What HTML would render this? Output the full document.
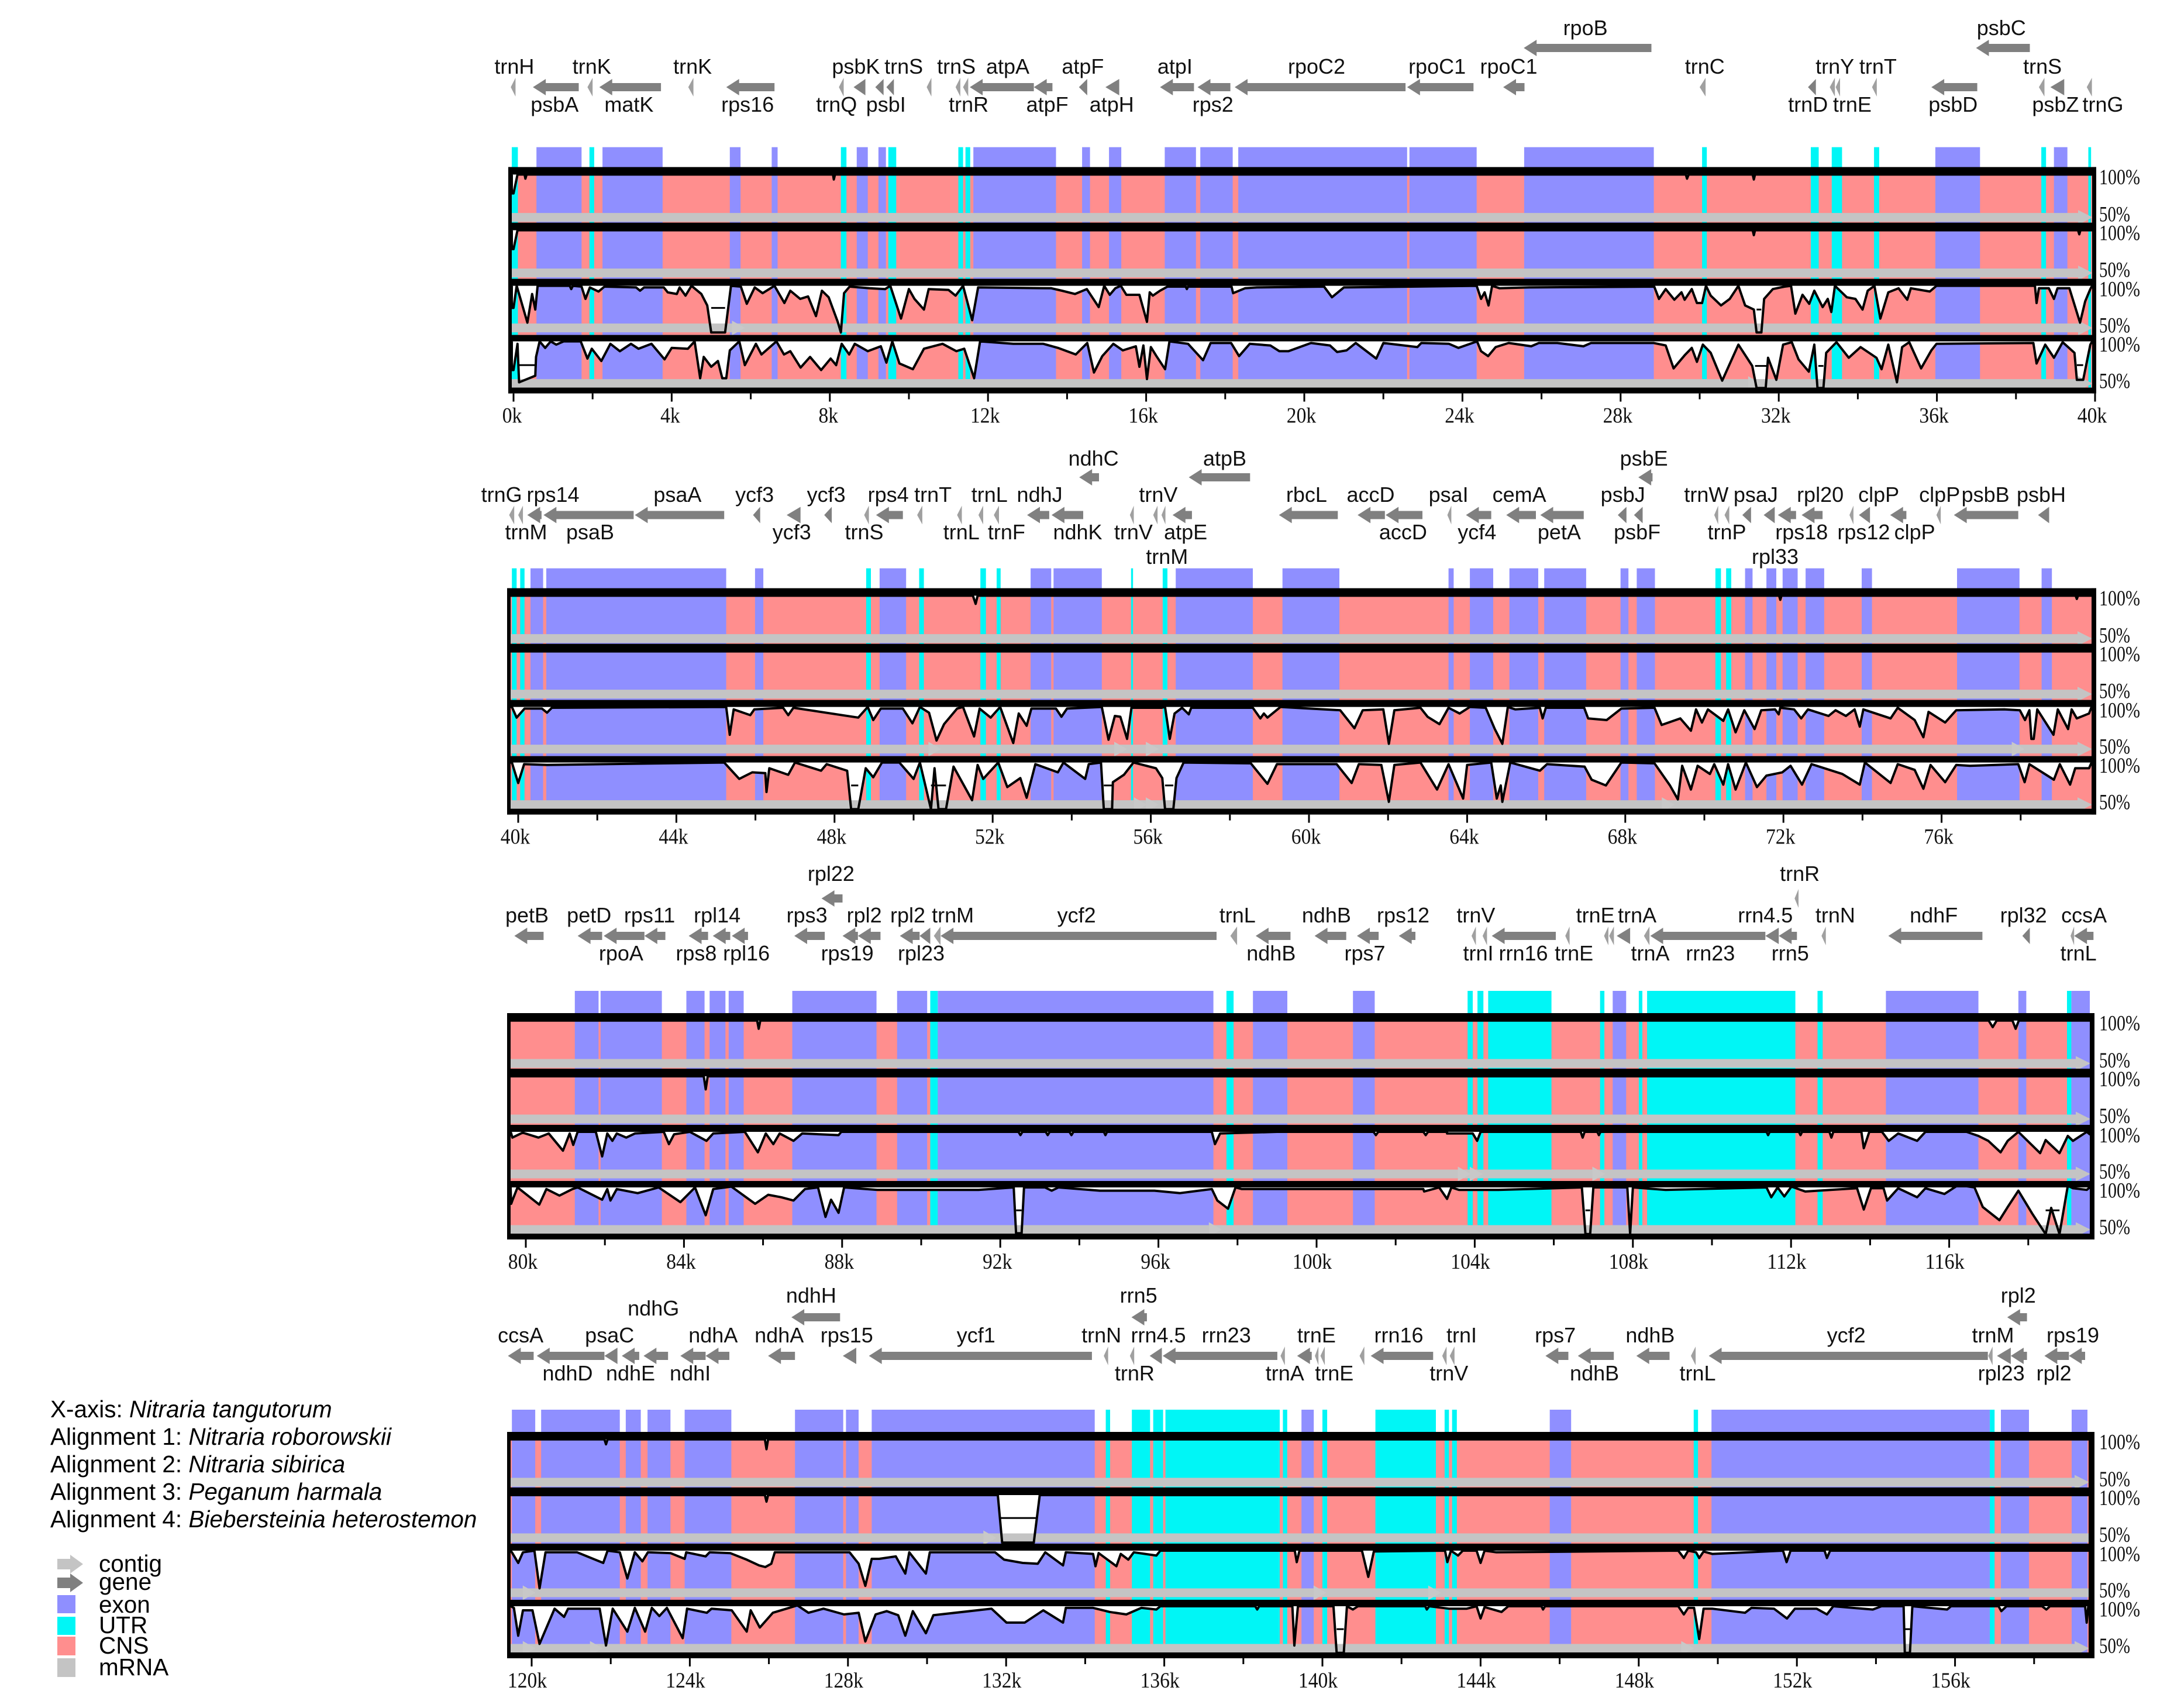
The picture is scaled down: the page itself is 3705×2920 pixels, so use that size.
<!DOCTYPE html>
<html lang="en">
<head>
<meta charset="utf-8">
<title>mVISTA chloroplast genome alignment</title>
<style>
html,body{margin:0;padding:0;background:#fff;}
svg{display:block;}
text{font-family:"Liberation Sans",sans-serif;fill:#000;}
.gene-label{font-size:36px;fill:#111;}
.tick-label,.pct-label{font-family:"Liberation Serif",serif;font-size:37px;fill:#111;}
.legend-text{font-size:40.5px;fill:#000;}
</style>
</head>
<body>
<svg id="chart" xmlns="http://www.w3.org/2000/svg" width="3705" height="2920" viewBox="0 0 3705 2920">
  <rect x="0" y="0" width="3705" height="2920" fill="#fff"/>
  <g>
    <text class="legend-text" x="86" y="2423">X-axis: <tspan font-style="italic">Nitraria tangutorum</tspan></text>
    <text class="legend-text" x="86" y="2470">Alignment 1: <tspan font-style="italic">Nitraria roborowskii</tspan></text>
    <text class="legend-text" x="86" y="2517">Alignment 2: <tspan font-style="italic">Nitraria sibirica</tspan></text>
    <text class="legend-text" x="86" y="2564">Alignment 3: <tspan font-style="italic">Peganum harmala</tspan></text>
    <text class="legend-text" x="86" y="2611">Alignment 4: <tspan font-style="italic">Biebersteinia heterostemon</tspan></text>
  </g>
  <g>
    <polygon points="98,2665 120,2665 120,2658 142,2674 120,2690 120,2683 98,2683" fill="#c4c4c4"/>
    <text class="legend-text" x="169" y="2687">contig</text>
    <polygon points="98,2697 120,2697 120,2690 142,2706 120,2722 120,2715 98,2715" fill="#808080"/>
    <text class="legend-text" x="169" y="2718">gene</text>
    <rect x="98" y="2727" width="31" height="31" fill="#8f8fff"/>
    <text class="legend-text" x="169" y="2757">exon</text>
    <rect x="98" y="2764" width="31" height="31" fill="#00f6f6"/>
    <text class="legend-text" x="169" y="2792">UTR</text>
    <rect x="98" y="2798" width="31" height="32" fill="#ff8e8e"/>
    <text class="legend-text" x="169" y="2827">CNS</text>
    <rect x="98" y="2835" width="31" height="32" fill="#c4c4c4"/>
    <text class="legend-text" x="169" y="2864">mRNA</text>
  </g>
</svg>
<script>
/* ---------- data: everything in kilobases along the reference genome ---------- */
const tickLabels0 = ['0k','4k','8k','12k','16k','20k','24k','28k','32k','36k','40k'];
const tickLabels1 = ['40k','44k','48k','52k','56k','60k','64k','68k','72k','76k'];
const tickLabels2 = ['80k','84k','88k','92k','96k','100k','104k','108k','112k','116k'];
const tickLabels3 = ['120k','124k','128k','132k','136k','140k','144k','148k','152k','156k'];
const percentLabels = ['100%','50%'];

const exon0 = [[.58,1.72],[2.25,3.77],[5.47,5.74],[6.53,6.68],[8.68,8.96],[9.23,9.42],[11.63,13.72],[14.38,14.58],[15.06,15.37],[16.47,17.26],[17.37,18.19],[18.33,22.6],[22.66,24.36],[25.56,28.84],[35.96,37.09],[38.96,39.3]];
const utr0 = [[-.1,.11],[1.92,2.04],[8.28,8.42],[9.48,9.68],[11.25,11.37],[11.43,11.55],[30.06,30.18],[32.81,33.01],[33.34,33.6],[34.41,34.54],[38.64,38.76],[39.83,39.9]];
const exon1 = [[40.31,40.63],[40.71,45.26],[45.99,46.2],[49.14,49.81],[52.96,53.48],[53.54,54.76],[56.63,58.58],[59.33,60.77],[63.53,63.66],[64.07,64.66],[65.07,65.8],[65.95,67.01],[67.88,68.08],[68.29,68.75],[71.03,71.22],[71.57,71.82],[71.98,72.36],[72.56,73.03],[73.98,74.24],[76.39,77.97],[78.53,78.79]];
const utr1 = [[39.84,39.96],[40.05,40.16],[48.8,48.92],[50.14,50.26],[51.69,51.83],[52.1,52.2],[55.5,55.55],[56.3,56.42],[70.28,70.42],[70.55,70.68]];
const exon2 = [[81.24,81.84],[81.89,83.44],[84.06,84.52],[84.65,85.05],[85.13,85.51],[86.74,88.87],[89.39,90.15],[90.42,97.39],[98.39,99.26],[100.92,101.47],[107.49,107.83],[114.4,116.74],[117.75,117.95],[119.09,119.7]];
const utr2 = [[90.23,90.42],[97.72,97.9],[103.82,103.95],[104.07,104.22],[104.34,105.94],[107.17,107.28],[108.15,108.24],[108.36,112.11],[112.67,112.8],[118.98,119.09]];
const exon3 = [[119.5,120.09],[120.24,122.23],[122.38,122.76],[122.93,123.51],[123.87,125.05],[126.66,127.88],[127.95,128.27],[128.6,134.24],[139.47,139.78],[145.75,146.29],[149.84,156.88],[157.16,157.87],[158.95,159.35]];
const utr3 = [[134.52,134.63],[135.18,135.64],[135.72,135.97],[136.03,138.92],[139,139.11],[140,140.12],[141.34,142.87],[143.09,143.2],[143.28,143.4],[149.39,149.5],[156.88,157]];

/* gene: name, from k, to k, arrow track (0 main, 1 upper), label k, label row */
const genes0 = [
['trnH',-.07,.05,0,.02,'A'],['psbA',.49,1.65,0,1.04,'B'],['trnK',1.87,2,0,1.98,'A'],['matK',2.17,3.73,0,2.92,'B'],['trnK',4.42,4.55,0,4.53,'A'],['rps16',5.38,6.6,0,5.92,'B'],['trnQ',8.23,8.35,0,8.17,'B'],['psbK',8.6,8.9,0,8.66,'A'],['psbI',9.15,9.36,0,9.42,'B'],['trnS',9.43,9.62,0,9.87,'A'],['',10.45,10.57,0,0,'A'],['trnS',11.18,11.3,0,11.2,'A'],['trnR',11.37,11.5,0,11.51,'B'],['atpA',11.54,13.16,0,12.5,'A'],['atpF',13.16,13.63,0,13.5,'B'],['atpF',14.3,14.51,0,14.4,'A'],['atpH',14.97,15.32,0,15.13,'B'],['atpI',16.35,17.21,0,16.73,'A'],['rps2',17.3,18.13,0,17.69,'B'],['rpoC2',18.24,22.56,0,20.31,'A'],['rpoC1',22.6,24.28,0,23.36,'A'],['rpoC1',25.03,25.57,0,25.17,'A'],['rpoB',25.55,28.78,1,27.11,'U'],['trnC',30,30.15,0,30.13,'A'],['trnD',32.74,32.94,0,32.74,'B'],['trnY',33.29,33.42,0,33.42,'A'],['trnE',33.44,33.55,0,33.86,'B'],['trnT',34.36,34.48,0,34.51,'A'],['psbD',35.86,37.02,0,36.41,'B'],['psbC',36.99,38.35,1,37.63,'U'],['trnS',38.58,38.72,0,38.67,'A'],['psbZ',38.87,39.22,0,39,'B'],['trnG',39.79,39.92,0,40.2,'B']];
const genes1 = [
['trnG',39.77,39.9,0,39.58,'A'],['trnM',40,40.12,0,40.2,'B'],['rps14',40.23,40.59,0,40.88,'A'],['psaB',40.64,42.92,0,41.82,'B'],['psaA',42.95,45.21,0,44.03,'A'],['ycf3',45.94,46.12,0,45.98,'A'],['ycf3',46.79,47.14,0,46.92,'B'],['ycf3',47.74,47.93,0,47.79,'A'],['trnS',48.75,48.87,0,48.75,'B'],['rps4',49.05,49.73,0,49.36,'A'],['trnT',50.09,50.22,0,50.49,'A'],['trnL',51.1,51.22,0,51.21,'B'],['trnL',51.64,51.76,0,51.92,'A'],['trnF',52.03,52.16,0,52.35,'B'],['ndhJ',52.87,53.43,0,53.19,'A'],['ndhK',53.49,54.29,0,54.15,'B'],['ndhC',54.19,54.69,1,54.55,'U'],['trnV',55.47,55.57,0,55.56,'B'],['trnV',56.06,56.17,0,56.19,'A'],['trnM',56.27,56.37,0,56.41,'L'],['atpE',56.55,57.04,0,56.88,'B'],['atpB',56.96,58.51,1,57.87,'U'],['rbcL',59.24,60.73,0,59.94,'A'],['accD',61.23,61.92,0,61.56,'A'],['accD',61.94,62.87,0,62.38,'B'],['psaI',63.5,63.6,0,63.53,'A'],['ycf4',63.97,64.61,0,64.25,'B'],['cemA',64.99,65.74,0,65.32,'A'],['petA',65.85,66.95,0,66.33,'B'],['psbJ',67.81,68.03,0,67.94,'A'],['psbE',68.33,68.69,1,68.47,'U'],['psbF',68.22,68.44,0,68.3,'B'],['trnW',70.25,70.35,0,70.05,'A'],['trnP',70.51,70.63,0,70.57,'B'],['psaJ',70.96,71.18,0,71.3,'A'],['rpl33',71.5,71.78,0,71.79,'L'],['rps18',71.86,72.32,0,72.46,'B'],['rpl20',72.46,72.99,0,72.93,'A'],['rps12',73.67,73.77,0,74.03,'B'],['clpP',73.91,74.19,0,74.41,'A'],['clpP',74.7,75.11,0,75.32,'B'],['clpP',75.87,75.98,0,75.95,'A'],['psbB',76.31,77.94,0,77.11,'A'],['psbH',78.44,78.72,0,78.52,'A']];
const genes2 = [
['petB',79.71,80.45,0,80.03,'A'],['petD',81.31,81.93,0,81.6,'A'],['rpoA',81.97,83,0,82.41,'B'],['rps11',83,83.53,0,83.13,'A'],['rps8',84.12,84.61,0,84.31,'B'],['rpl14',84.73,85.17,0,84.84,'A'],['rpl16',85.21,85.62,0,85.58,'B'],['rps3',86.79,87.56,0,87.11,'A'],['rpl22',87.48,88.01,1,87.72,'U'],['rps19',88.01,88.4,0,88.13,'B'],['rpl2',88.4,88.97,0,88.56,'A'],['rpl23',89.46,89.96,0,90,'B'],['rpl2',89.96,90.23,0,89.66,'A'],['trnM',90.32,90.49,0,90.8,'A'],['ycf2',90.49,97.47,0,93.93,'A'],['trnL',97.82,97.99,0,98,'A'],['ndhB',98.46,99.34,0,98.85,'B'],['ndhB',99.95,100.75,0,100.25,'A'],['rps7',101.02,101.57,0,101.22,'B'],['rps12',102.08,102.5,0,102.19,'A'],['trnV',103.92,104.03,0,104.03,'A'],['trnI',104.2,104.31,0,104.09,'B'],['rrn16',104.43,106.05,0,105.23,'B'],['trnE',106.29,106.4,0,106.51,'B'],['trnE',107.27,107.38,0,107.05,'A'],['',107.4,107.52,0,0,'A'],['trnA',107.59,107.93,0,108.11,'A'],['trnA',108.28,108.42,0,108.44,'B'],['rrn23',108.44,111.35,0,109.96,'B'],['rrn4.5',111.35,111.69,0,111.35,'A'],['rrn5',111.69,112.15,0,111.98,'B'],['trnR',112.09,112.19,1,112.22,'U'],['trnN',112.77,112.88,0,113.12,'A'],['ndhF',114.46,116.84,0,115.61,'A'],['rpl32',117.85,118.04,0,117.88,'A'],['trnL',119.07,119.16,0,119.27,'B'],['ccsA',119.16,119.65,0,119.41,'A']];
const genes3 = [
['ccsA',119.4,120.05,0,119.72,'A'],['ndhD',120.13,121.84,0,120.91,'B'],['psaC',121.84,122.17,0,121.97,'A'],['ndhE',122.28,122.72,0,122.5,'B'],['ndhG',122.83,123.45,0,123.08,'G'],['ndhI',123.76,124.4,0,124.01,'B'],['ndhA',124.4,125,0,124.59,'A'],['ndhA',125.98,126.66,0,126.26,'A'],['ndhH',126.57,127.8,1,127.07,'U'],['rps15',127.87,128.21,0,127.97,'A'],['ycf1',128.53,134.17,0,131.24,'A'],['trnN',134.47,134.58,0,134.41,'A'],['trnR',135.13,135.24,0,135.25,'B'],['rrn5',135.17,135.56,1,135.35,'U'],['rrn4.5',135.63,135.94,0,135.85,'A'],['rrn23',135.96,138.86,0,137.57,'A'],['trnA',138.94,139.05,0,139.05,'B'],['trnE',139.36,139.73,0,139.85,'A'],['trnE',139.81,139.9,0,140.3,'B'],['',139.95,140.06,0,0,'A'],['',140.94,141.06,0,0,'A'],['rrn16',141.22,142.8,0,141.93,'A'],['trnV',143.03,143.14,0,143.2,'B'],['trnI',143.22,143.34,0,143.52,'A'],['rps7',145.64,146.22,0,145.89,'A'],['ndhB',146.46,147.37,0,146.88,'B'],['ndhB',147.94,148.78,0,148.29,'A'],['trnL',149.32,149.44,0,149.49,'B'],['ycf2',149.77,156.83,0,153.25,'A'],['trnM',156.84,156.95,0,156.96,'A'],['rpl23',157.06,157.41,0,157.17,'B'],['',157.41,157.82,0,0,'A'],['rpl2',157.32,157.82,1,157.6,'U'],['rpl2',158.26,158.88,0,158.5,'B'],['rps19',158.88,159.29,0,158.98,'A']];

/* conservation identity (%), flat list of k, pct, k, pct ... */
const cons0a = [-.05,77,0,77,.1,100,.28,100,.3,95,.33,100,8.08,100,8.1,94,8.13,100,29.65,100,29.68,95,29.72,100,31.34,100,31.37,94,31.4,100];
const cons0b = [-.05,77,0,77,.1,100,31.34,100,31.37,94,31.4,100,39.57,100,39.6,95,39.63,100];
const cons0c = [-.05,73,0,73,.08,100,.35,55,.47,90,.55,71,.61,100,1.42,100,1.46,96,1.5,100,1.72,99,1.82,84,1.93,98,2.15,93,2.3,99,3.1,98,3.2,94,3.3,98,3.8,98,3.9,92,4.13,90,4.2,98,4.35,88,4.5,100,4.75,90,4.9,76,5,43,5.35,43,5.5,100,5.75,99,5.9,78,6.1,98,6.3,91,6.6,100,6.85,79,7,94,7.25,84,7.45,87,7.65,63,7.8,94,7.97,86,8.2,56,8.28,43,8.36,91,8.5,99,9,97,9.4,96,9.53,100,9.8,60,10,96,10.14,84,10.38,71,10.5,96,11,95,11.18,88,11.37,100,11.6,58,11.75,98,13.6,97,13.87,94,14.2,90,14.5,96,14.8,74,14.94,100,15.08,89,15.22,97,15.36,100,15.5,89,15.83,89,16.02,56,16.09,92,16.17,88,16.35,94,16.54,99,17,99,17.03,96,17.06,99,18.16,99,18.2,91,18.5,97,18.8,98,20.5,99,20.7,86,21,98,24.36,100,24.47,84,24.56,92,24.66,76,24.75,100,24.94,97,25.69,98,28.85,99,28.97,84,29.14,96,29.36,83,29.54,92,29.62,83,29.8,96,29.93,79,30.06,79,30.16,100,30.28,88,30.54,76,30.76,84,30.98,100,31.15,76,31.37,71,31.44,43,31.56,43,31.63,84,31.85,96,32.15,99,32.31,100,32.42,66,32.6,89,32.77,78,32.9,94,33.11,74,33.24,84,33.33,68,33.42,100,33.72,86,33.94,84,34.12,71,34.25,94,34.42,100,34.57,60,34.77,92,35.03,97,35.25,83,35.34,97,35.82,93,35.99,100,38.48,100,38.52,79,38.58,97,38.83,97,38.96,84,39.05,97,39.35,97,39.62,55,39.75,81,39.88,96];
const cons0d = [-.05,65,0,65,.1,97,.14,50,.55,58,.57,81,.66,100,.8,92,.94,100,1.08,96,1.27,100,1.7,100,1.87,79,1.98,91,2.22,76,2.45,97,2.69,88,2.97,97,3.16,91,3.49,97,3.82,78,4,92,4.41,91,4.58,100,4.72,55,4.81,81,5,69,5.17,76,5.28,55,5.38,55,5.47,89,5.71,100,5.85,71,6.13,97,6.27,84,6.65,100,6.84,84,7,88,7.26,68,7.5,81,7.78,65,8.02,79,8.16,71,8.3,97,8.49,84,8.63,97,8.96,88,9.29,94,9.43,74,9.58,100,9.76,73,10.1,66,10.38,91,10.85,97,11.2,88,11.4,91,11.65,55,11.8,100,12.64,97,13.4,97,13.77,92,14.22,84,14.51,98,14.68,62,14.89,82,15.17,97,15.41,89,15.74,94,15.83,69,15.93,95,16.02,54,16.12,93,16.26,82,16.48,66,16.59,100,17.06,97,17.44,77,17.63,98,18.15,98,18.35,82,18.62,97,19.14,95,19.37,88,19.6,88,20.17,98,20.65,95,20.83,87,21.07,89,21.3,98,21.82,79,22,98,22.86,93,22.96,98,23.66,97,23.9,92,24.37,100,24.47,88,24.65,82,24.84,93,25.17,98,25.74,94,25.93,98,26.4,98,27.06,94,27.25,98,28.4,98,28.84,98,29.14,95,29.34,67,29.62,83,29.8,92,29.93,75,30.08,96,30.28,86,30.57,52,30.98,96,31.33,70,31.44,43,31.67,43,31.73,80,31.94,53,32.11,96,32.33,99,32.5,78,32.76,63,32.9,96,32.98,43,33.13,43,33.2,86,33.46,99,33.77,80,34.07,93,34.47,80,34.6,66,34.77,96,34.99,50,35.12,93,35.3,99,35.6,67,35.86,89,35.99,97,38.44,98,38.52,73,38.74,96,38.96,80,39.18,99,39.48,86,39.54,53,39.7,53,39.88,96];
const cons1a = [51.5,100,51.57,90,51.62,100,71.89,100,71.92,95,71.95,100,79.39,100,79.42,96,79.45,100];
const cons1b = [39.8,100,79.7,100];
const cons1c = [39.84,100,39.96,87,40.16,98,40.6,98,40.73,93,40.85,99,45.26,100,45.35,66,45.45,97,45.87,90,45.97,97,46.7,99,46.83,90,46.96,99,48.6,87,48.84,100,48.98,84,49.17,98,49.73,98,49.97,80,50.16,100,50.39,93,50.58,59,50.77,79,51.1,98,51.25,100,51.53,64,51.67,98,51.95,87,52.19,100,52.52,56,52.66,92,52.86,77,52.98,98,53.6,98,53.74,88,53.88,98,54.76,100,54.93,60,55.09,89,55.23,88,55.4,61,55.51,99,56.27,99,56.36,100,56.48,61,56.6,92,56.79,99,56.96,91,57.02,99,58.58,99,58.77,86,58.86,92,58.95,87,59.28,100,60.79,96,61.15,74,61.36,96,61.88,97,62.02,55,62.16,96,62.82,99,63,88,63.3,79,63.53,99,63.81,92,64.07,100,64.47,99,64.7,73,64.89,55,65.03,100,65.22,97,65.84,99,65.91,86,65.99,99,66.96,99,67.06,86,67.53,84,67.9,98,68.74,99,68.92,78,69.39,86,69.66,71,69.79,97,69.94,81,70.09,97,70.48,83,70.6,97,70.79,69,71.01,96,71.27,73,71.44,96,71.79,97,71.88,91,71.92,99,72.27,97,72.45,86,72.62,97,73.14,89,73.32,96,73.58,89,73.8,97,73.93,76,74.02,97,74.71,86,74.89,99,75.32,84,75.54,63,75.67,94,76.09,81,76.37,96,77.59,97,77.98,96,78.11,84,78.22,96,78.27,61,78.33,61,78.42,97,78.83,66,78.94,97,79.2,73,79.29,97,79.42,86,79.73,92];
const cons1d = [39.84,100,40,75,40.15,98,40.73,97,45.21,100,45.59,80,45.92,88,46.25,87,46.28,64,46.35,93,46.83,85,47,100,47.66,90,47.8,98,48.32,90,48.42,43,48.6,43,48.79,93,48.98,82,49.2,100,49.64,100,50,80,50.16,100,50.44,43,50.53,93,50.63,43,50.82,43,51.01,95,51.48,54,51.62,97,51.76,80,52.14,100,52.37,70,52.7,81,52.86,57,53.08,98,53.65,88,53.79,100,54.34,80,54.43,98,54.74,100,54.81,43,55.02,43,55.04,76,55.32,85,55.56,100,56.13,93,56.29,81,56.36,43,56.57,43,56.65,81,56.83,100,58.53,99,58.95,74,59.19,98,60.7,98,61.08,75,61.26,98,61.83,97,62.02,52,62.16,97,62.82,100,63.24,67,63.53,98,63.9,56,64,97,64.61,100,64.75,56,64.85,72,64.89,52,65.09,100,65.84,90,66.02,98,66.97,95,67.15,79,67.51,72,67.9,100,68.74,99,69.13,72,69.33,55,69.44,96,69.66,67,69.83,96,70.14,86,70.25,98,70.48,73,70.6,98,70.79,67,71.05,100,71.33,70,71.57,84,71.97,88,72.18,96,72.47,73,72.71,98,73.49,86,73.93,73,74.06,100,74.71,75,74.89,98,75.32,91,75.54,68,75.72,97,76.09,76,76.37,97,76.72,96,77.94,98,78.1,76,78.22,98,78.84,79,78.99,98,79.25,73,79.38,93,79.73,93];
const cons2a = [85.85,100,85.89,90,85.93,100,117,100,117.1,92,117.2,100,117.6,100,117.68,90,117.76,100];
const cons2b = [84.5,100,84.55,84,84.6,100];
const cons2c = [79.63,98,79.66,93,79.92,99,80.32,93,80.58,98,80.94,77,81.11,98,81.2,84,81.31,100,81.77,100,81.93,70,82.06,98,82.19,89,82.3,98,82.54,93,82.76,98,83.49,100,83.62,85,83.75,97,84.15,100,84.57,89,84.74,98,85.54,100,85.87,75,86.07,98,86.26,85,86.42,98,86.77,89,86.99,98,87.91,96,87.98,100,92.46,100,92.51,96,92.56,100,93.15,100,93.2,96,93.25,100,93.75,100,93.8,96,93.85,100,94.62,100,94.66,96,94.7,100,97.35,100,97.43,85,97.56,98,99,100,101.44,100,101.5,96,101.56,100,102.7,100,102.76,96,102.82,100,103.3,100,103.3,98,103.95,98,104.06,89,104.15,100,106.68,100,106.73,93,106.78,100,107.1,100,107.14,96,107.18,100,111.38,100,111.42,96,111.46,100,112.2,100,112.24,96,112.28,100,112.97,100,113.02,93,113.07,100,113.78,100,113.84,80,113.98,100,114.3,100,114.47,89,114.71,98,115.19,89,115.4,100,116.44,100,116.74,95,116.99,89,117.3,75,117.48,89,117.75,100,118.3,74,118.44,90,118.79,74,119,95,119.13,89,119.48,100,119.56,97];
const cons2d = [79.63,80,79.66,84,79.79,100,80.34,79,80.52,98,80.85,90,81.18,98,81.31,100,81.93,85,82.06,98,82.14,84,82.3,98,82.83,93,83.36,100,83.91,82,84.28,100,84.55,66,84.74,98,85.2,101,85.8,80,86.13,91,86.46,88,86.77,84,87.06,98,87.39,100,87.58,64,87.72,85,87.91,69,88.05,100,88.89,97,89.96,97,90.73,97,91.45,97,92.34,100,92.4,44,92.54,44,92.6,100,93.13,100,93.3,96,93.47,100,94.52,96,94.81,96,95.6,96,95.9,96,96.54,93,97.35,98,97.49,84,97.76,74,97.95,100,98.11,98,102.7,98,102.72,95,103.1,100,103.3,86,103.41,100,103.6,97,103.85,97,104.6,97,106.71,100,106.8,43,106.92,43,107,100,107.86,100,107.93,43,108,100,108.83,97,111.38,100,111.5,88,111.66,100,111.83,89,112.01,101,112.36,95,113.67,99,113.84,73,114.02,99,114.34,99,114.43,84,114.71,99,115.19,88,115.4,99,115.88,92,116.23,103,116.64,100,116.85,76,117.27,60,117.48,76,117.75,96,118.1,68,118.44,43,118.58,75,118.79,43,119,102,119.13,99,119.48,97];
const cons3a = [121.84,100,121.88,94,121.92,100,125.9,100,125.94,88,125.98,100];
const cons3b = [125.9,100,125.94,92,125.98,100,131.79,100,131.9,42,132.7,42,132.85,100];
const cons3c = [119.5,98,119.66,85,119.78,98,120.07,100,120.2,54,120.35,98,121.15,98,121.81,85,121.92,100,122.23,98,122.42,66,122.61,98,122.8,87,122.94,98,123.51,97,123.87,90,123.91,98,124.4,93,124.5,98,125.02,97,125.44,89,125.75,82,125.91,80,126.06,84,126.15,98,128.04,98,128.27,84,128.44,57,128.6,90,128.79,90,129.21,93,129.45,72,129.55,98,129.97,72,130.07,98,131.72,98,131.95,89,132.42,85,132.8,84,132.99,98,133.44,82,133.51,98,134.2,96,134.26,81,134.34,97,134.79,81,134.9,96,135.09,89,135.23,98,135.8,94,135.9,100,139.3,100,139.35,86,139.42,100,140.4,100,141,100,141.16,68,141.3,99,143.1,100,143.16,86,143.25,100,143.43,94,143.55,100,143.9,100,144,85,144.1,100,144.4,98,149,100,149.14,91,149.25,100,149.45,98,149.53,91,149.64,99,149.86,96,151.65,100,151.74,86,151.84,100,152.7,100,152.76,91,152.84,100];
const cons3d = [119.55,98,119.66,64,119.78,95,120.02,95,120.2,54,120.58,97,120.82,87,120.92,97,121.72,97,121.88,52,122.05,97,122.42,69,122.61,98,122.87,69,123.04,98,123.23,88,123.42,98,123.82,61,123.93,97,124.43,92,124.55,97,125.06,95,125.44,69,125.54,95,125.77,74,126.1,92,126.72,101,127,92,127.38,97,127.9,90,128.27,92,128.44,57,128.7,90,128.98,94,129.27,89,129.45,64,129.64,94,129.97,67,130.16,89,131.63,97,132.01,80,132.47,80,132.94,95,133.44,80,133.51,98,134.2,98,134.62,93,135.04,90,135.42,98,135.8,96,135.9,100,138.3,100,138.35,96,138.4,100,139.24,100,139.29,52,139.38,100,140.28,100,140.36,43,140.54,43,140.62,100,140.77,96,140.9,100,142.6,100,142.64,96,142.7,100,143.2,97,143.65,97,143.9,100,144,85,144.1,99,144.53,93,144.7,100,145.54,100,145.58,96,145.63,100,149,100,149.14,90,149.25,98,149.4,98,149.53,60,149.64,97,149.86,97,150.69,92,150.85,98,151.42,97,151.75,85,151.95,97,152.5,97,152.76,90,152.92,100,153.92,96,154.14,100,154.7,100,154.73,43,154.86,43,154.92,100,155.8,96,155.9,100,157.1,100,157.17,94,157.3,100,158.2,100,158.31,96,158.4,100,159.29,100,159.33,80,159.37,100];

/* no-alignment bars: block, lane, from k, to k, pct */
const gapBars = [[0,2,5,5.35,73],[0,3,.14,.55,71],[0,2,31.44,31.56,71],[0,3,31.4,31.7,70],[0,3,33,33.13,70],[0,3,39.54,39.7,71],[1,3,48.42,48.6,72],[1,3,50.44,50.82,72],[1,3,54.81,55.02,72],[1,3,56.36,56.57,72],[2,3,92.4,92.54,72],[2,3,106.8,106.92,72],[2,3,118.44,118.79,72],[3,1,131.85,132.75,72],[3,3,140.36,140.54,72],[3,3,154.73,154.86,72]];
/* contig joins along the grey bars: block, lane, k */
const contigJoins = [[0,2,5.85],[0,3,31.55],[1,2,50.7],[1,2,55.4],[1,2,56.2],[1,3,55.9],[1,3,56.2],[1,2,78.1],[1,3,69.25],[2,3,97.6],[2,2,103.9],[2,2,104.2],[2,2,107.3],[3,1,131.75],[3,2,120.1],[3,3,120.1],[3,3,121.8],[3,3,149.4],[3,2,140.1],[3,2,143.0]];
const endArrows = [[1,1,1,1],[1,1,1,1],[1,1,1,1],[1,0,0,1]];

const blockTicks = [tickLabels0,tickLabels1,tickLabels2,tickLabels3];
const blockExons = [exon0,exon1,exon2,exon3];
const blockUtrs = [utr0,utr1,utr2,utr3];
const blockGenes = [genes0,genes1,genes2,genes3];
const blockCons = [[cons0a,cons0b,cons0c,cons0d],[cons1a,cons1b,cons1c,cons1d],[cons2a,cons2b,cons2c,cons2d],[cons3a,cons3b,cons3c,cons3d]];

/* ---------- layout ---------- */
const layout = {
  startK:[0,40,80,120], origin:[878,886,899,909], pxPerK:67.6,
  top:[285.6,1005.6,1732,2448],
  frameLeft:[869,867,867,867], frameRight:[3584,3584,3581,3581],
  innerRight:[3577,3576,3573,3571],
  strip:[34,34,38,38],
  arrowY:[149,880.5,1600,2318], upperY:[82,816,1536,2252],
  labelU:[48,784,1494,2215], labelA:[114,846,1565,2283], labelB:[179,910,1630,2348], labelL:[215,952,1670,2385], labelG:[114,846,1565,2237]
};
const laneTop = [12.8,108,203,298], laneBottom = [95,191,287,377];
const greyTop = [78.5,173.5,267.5,362.5], greyH = 15;
const bands = [[0,12.8],[95,108],[191,203],[287,298],[377,387]];
const pctY = [[17.5,81],[113,176],[209,271],[303.5,366]];
const pctPxPer50 = 70;

function xScale(b,k){ return layout.origin[b]+(k-layout.startK[b])*layout.pxPerK; }
function yScale(b,lane,pct){ return layout.top[b]+laneTop[lane]+(100-pct)/50*pctPxPer50; }
function r(v){ return Math.round(v*10)/10; }

const svg = document.getElementById('chart');
const NS = 'http://www.w3.org/2000/svg';
function mk(tag,attrs,parent){
  const el = document.createElementNS(NS,tag);
  for(const a in attrs){ el.setAttribute(a,attrs[a]); }
  parent.appendChild(el);
  return el;
}
function geneArrow(b,g,grp){
  const y = g[3]===1 ? layout.upperY[b] : layout.arrowY[b];
  const tip = xScale(b,g[1]), end = xScale(b,g[2]), len = end-tip;
  let pts, fill = '#808080';
  if(len<=12){
    pts = [[tip,y],[end,y-16],[end,y+16]];
    fill = '#a0a0a0';
  } else if(len<=24){
    pts = [[tip,y],[end,y-14],[end,y+14]];
  } else {
    const hx = tip+22;
    pts = [[tip,y],[hx,y-14],[hx,y-7],[end,y-7],[end,y+7],[hx,y+7],[hx,y+14]];
  }
  const el = mk('polygon',{points:pts.map(p=>r(p[0])+','+r(p[1])).join(' '),fill:fill},grp);
  
  
}
function span(b,range,color,yTop,h,grp,name){
  const left = layout.frameLeft[b]+6, right = layout.innerRight[b];
  const x0 = Math.max(left,xScale(b,range[0])), x1 = Math.min(right,xScale(b,range[1]));
  if(x1<=x0) return;
  const el = mk('rect',{x:r(x0),y:r(yTop),width:r(x1-x0),height:r(h),fill:color},grp);
  
  
}

for(let b=0;b<4;b++){
  const T = layout.top[b], left = layout.frameLeft[b]+6, right = layout.innerRight[b];
  const blockG = mk('g',{},svg);
  
  

  /* gene track */
  const geneG = mk('g',{},blockG);
  
  
  blockGenes[b].forEach(g=>{
    geneArrow(b,g,geneG);
    if(g[0]){
      const ly = layout['label'+g[5]][b];
      const t = mk('text',{x:r(xScale(b,g[4])),y:r(ly+12),'text-anchor':'middle','class':'gene-label'},geneG);
      t.textContent = g[0];
      
      
    }
  });

  /* annotation strip above frame */
  const stripG = mk('g',{},blockG);
  
  
  const st = layout.strip[b];
  blockExons[b].forEach(s=>span(b,s,'#8f8fff',T-st,st+2,stripG,'strip-exon'));
  blockUtrs[b].forEach(s=>span(b,s,'#00f6f6',T-st,st+2,stripG,'strip-utr'));

  /* conservation lanes */
  for(let l=0;l<4;l++){
    const ltop = T+laneTop[l], lbot = T+laneBottom[l];
    const laneG = mk('g',{},blockG);
    
    
    const bg = mk('rect',{x:left,y:r(ltop),width:r(right-left),height:r(lbot-ltop),fill:'#ff8e8e'},laneG);
    
    
    blockExons[b].forEach(s=>span(b,s,'#8f8fff',ltop,lbot-ltop,laneG,'exon-region'));
    blockUtrs[b].forEach(s=>span(b,s,'#00f6f6',ltop,lbot-ltop,laneG,'utr-region'));

    const series = blockCons[b][l];
    const pts = [[left,yScale(b,l,100)]];
    for(let i=0;i<series.length;i+=2){ pts.push([xScale(b,series[i]),yScale(b,l,series[i+1])]); }
    pts.push([right,yScale(b,l,100)]);
    const pstr = pts.map(p=>r(Math.max(left,Math.min(right,p[0])))+','+r(p[1])).join(' ');
    const white = mk('polygon',{points:left+','+r(ltop-2)+' '+pstr+' '+right+','+r(ltop-2),fill:'#fff'},laneG);
    
    

    const gy = T+greyTop[l];
    const grey = mk('rect',{x:left,y:gy,width:r(right-left-(endArrows[b][l]?22:0)),height:greyH,fill:'#c4c4c4'},laneG);
    
    
    if(endArrows[b][l]){
      const hd = mk('polygon',{points:(right-24)+','+(gy-5)+' '+(right+1)+','+(gy+7.5)+' '+(right-24)+','+(gy+20),fill:'#c4c4c4'},laneG);
      
      
    }
    contigJoins.filter(c=>c[0]===b&&c[1]===l).forEach(c=>{
      const cx = xScale(b,c[2]);
      const hd = mk('polygon',{points:r(cx-22)+','+(gy-5)+' '+r(cx)+','+(gy+7.5)+' '+r(cx-22)+','+(gy+20),fill:'#c8c8c8'},laneG);
      
      
    });

    const line = mk('polyline',{points:pstr,fill:'none',stroke:'#000','stroke-width':4,'stroke-linejoin':'round'},laneG);
    
    

    gapBars.filter(g=>g[0]===b&&g[1]===l).forEach(g=>{
      const x0 = xScale(b,g[2]);
      const bar = mk('rect',{x:r(x0),y:r(yScale(b,l,g[4])-1.5),width:r(xScale(b,g[3])-x0),height:3,fill:'#000'},laneG);
      
      
    });
  }

  /* frame */
  const frameG = mk('g',{},blockG);
  
  
  const fl = layout.frameLeft[b], fr = layout.frameRight[b];
  bands.forEach(bd=>{
    const el = mk('rect',{x:fl,y:r(T+bd[0]),width:fr-fl,height:r(bd[1]-bd[0]),fill:'#000'},frameG);
    
    
  });
  const lb = mk('rect',{x:fl,y:r(T),width:6,height:387,fill:'#000'},frameG);
  
  
  const rb = mk('rect',{x:right,y:r(T),width:fr-right,height:387,fill:'#000'},frameG);
  
  

  /* x axis */
  const axisG = mk('g',{},blockG);
  
  
  const yb = T+387;
  blockTicks[b].forEach(label=>{
    const k = parseFloat(label);
    const tx = xScale(b,k);
    const major = mk('rect',{x:r(tx-1.5),y:r(yb),width:3,height:14,fill:'#000'},axisG);
    
    
    const mx = xScale(b,k+2);
    if(mx<right+5){
      const minor = mk('rect',{x:r(mx-1.5),y:r(yb),width:3,height:10,fill:'#000'},axisG);
      
      
    }
    const t = mk('text',{x:r(tx-(label.length-1)*2.5),y:r(yb+50),'text-anchor':'middle','class':'tick-label',textLength:label.length*16.8,lengthAdjust:'spacingAndGlyphs'},axisG);
    t.textContent = label;
    
    
  });

  /* identity percent labels */
  for(let l=0;l<4;l++){
    percentLabels.forEach((label,i)=>{
      const t = mk('text',{x:3589,y:r(T+pctY[l][i]+12),'class':'pct-label',textLength:i===0?70:53,lengthAdjust:'spacingAndGlyphs'},blockG);
      t.textContent = label;
      
      
    });
  }
}
</script>
</body>
</html>
